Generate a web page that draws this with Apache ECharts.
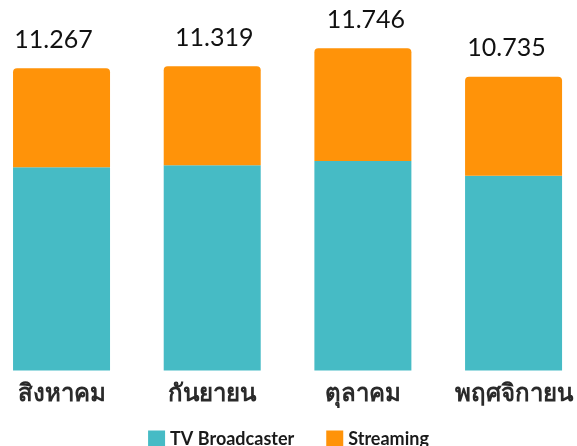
<!DOCTYPE html>
<html>
<head>
<meta charset="utf-8">
<script src="https://cdn.jsdelivr.net/npm/echarts@6/dist/echarts.min.js"></script>
<style>
html,body{margin:0;padding:0;background:#fff;}
#c{width:577px;height:446px;}
</style>
</head>
<body>
<div id="c"></div>
<script>
const categories = ['สิงหาคม', 'กันยายน', 'ตุลาคม', 'พฤศจิกายน'];
const tvBroadcaster = [7.50, 7.57, 7.73, 7.19];
const streaming = [3.65, 3.66, 4.16, 3.65];
const totalLabels = ['11.267', '11.319', '11.746', '10.735'];
const seriesNames = ['TV Broadcaster', 'Streaming'];
// small horizontal nudges of the total labels, as in the original
const labelShiftX = [-8, 2, 3, -7];

const chart = echarts.init(document.getElementById('c'));
chart.setOption({
  animation: false,
  backgroundColor: '#ffffff',
  legend: {
    data: seriesNames,
    left: 'center',
    top: 425,
    itemWidth: 17,
    itemHeight: 17,
    itemGap: 32,
    icon: 'rect',
    textStyle: { fontFamily: 'Lato', fontWeight: 'bold', fontSize: 18, color: '#1a1a1a' }
  },
  grid: { left: -13.8, right: -11.9, top: 18.2, bottom: 75.5, containLabel: false, outerBoundsMode: 'none' },
  xAxis: {
    type: 'category',
    data: categories,
    axisLine: { show: false },
    axisTick: { show: false },
    axisLabel: { interval: 0, margin: 12, fontSize: 24, fontWeight: 'bold', color: '#2a2a2a', fontFamily: 'Noto Sans, sans-serif', hideOverlap: false }
  },
  yAxis: {
    type: 'value', min: 0, max: 13,
    show: false,
    splitLine: { show: false }
  },
  series: [
    {
      name: seriesNames[0], type: 'bar', stack: 'total', barWidth: 97,
      data: tvBroadcaster,
      itemStyle: { color: '#46BBC5' }
    },
    {
      name: seriesNames[1], type: 'bar', stack: 'total', barWidth: 97,
      data: streaming.map((v, i) => ({ value: v, label: { offset: [labelShiftX[i], 0] } })),
      itemStyle: { color: '#FF9309', borderRadius: [4, 4, 0, 0] },
      label: {
        show: true, position: 'top', distance: 16,
        formatter: p => totalLabels[p.dataIndex],
        fontFamily: 'Lato', fontSize: 25, color: '#111'
      }
    }
  ]
});
</script>
</body>
</html>
